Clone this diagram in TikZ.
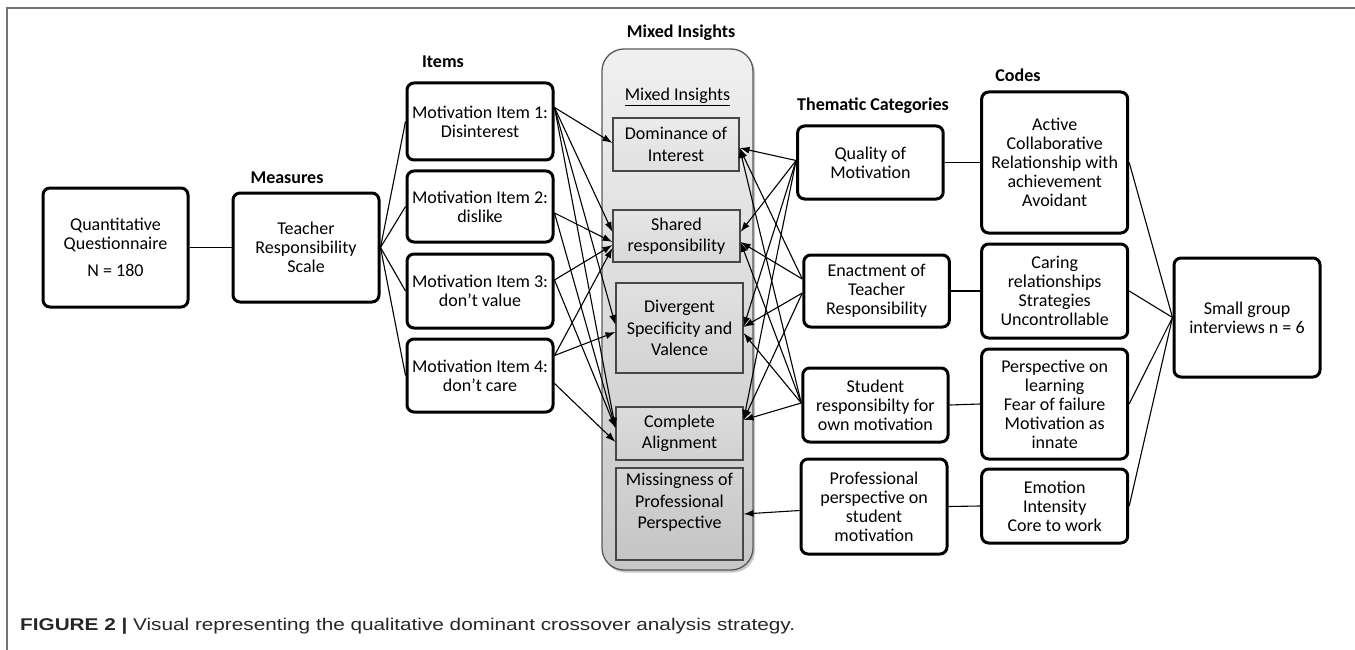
\documentclass[tikz,border=0pt]{standalone}
\usepackage{graphicx}
\usepackage{fontspec}
\setmainfont{Carlito}
\newfontfamily\capfont{Liberation Sans}
\usetikzlibrary{arrows.meta,calc}
\begin{document}
\begin{tikzpicture}[x=1pt,y=-1pt,
  bx/.style={draw=black, line width=3pt, rounded corners=7pt, fill=white, align=center, inner sep=0pt, font=\fontsize{18}{19}\selectfont},
  mi/.style={draw=black!72, line width=1.1pt, align=center, inner sep=0pt, font=\fontsize{18}{21.5}\selectfont},
  lab/.style={font=\bfseries\fontsize{18}{20}\selectfont, inner sep=0pt},
  ln/.style={line width=1.1pt},
  ar/.style={line width=1.1pt, -{Latex[length=10pt,width=7pt]}},
]
\useasboundingbox (0,0) rectangle (1355,650);
% frame
\draw[black!55, line width=1.3pt] (7,650) -- (7,8) -- (1355,8);

% container
\fill[black!22, rounded corners=22pt] (603.5,51.5) rectangle (755,572.5);
\draw[draw=black!65, line width=1.3pt, rounded corners=22pt, top color=black!6, bottom color=black!22] (602,49) rectangle (753,570);

% labels
\node[lab] (lmeas) at (287,178) {Measures};
\node[lab] (litems) at (443,62) {Items};
\node[lab] (lmix) at (681,33) {Mixed Insights};
\node[font=\fontsize{18}{20}\selectfont, inner sep=0pt] (umix) at (677.5,97) {\underline{Mixed Insights}};
\node[lab] (lthem) at (873,106) {Thematic Categories};
\node[lab] (lcodes) at (1018,75) {Codes};

% left boxes
\node[bx, minimum width=145pt, minimum height=119pt] (qq) at (115.5,247.5) {\\[-6pt]Quantitative\\Questionnaire\\[8pt]N = 180};
\node[bx, minimum width=146pt, minimum height=109pt] (trs) at (306,247.5) {Teacher\\Responsibility\\Scale};
\node[bx, minimum width=146pt, minimum height=77pt] (it1) at (480,121.5) {Motivation Item 1:\\Disinterest};
\node[bx, minimum width=146pt, minimum height=71pt] (it2) at (480,206.5) {Motivation Item 2:\\dislike};
\node[bx, minimum width=146pt, minimum height=74pt] (it3) at (480,291) {Motivation Item 3:\\don’t value};
\node[bx, minimum width=146pt, minimum height=73pt] (it4) at (480,375.5) {Motivation Item 4:\\don’t care};

% mixed insight boxes
\node[mi, top color=black!8, bottom color=black!12, minimum width=126pt, minimum height=53pt] (dom) at (676,144.5) {Dominance of\\Interest};
\node[mi, top color=black!10, bottom color=black!15, minimum width=127pt, minimum height=52pt] (sh) at (676.5,236) {Shared\\responsibility};
\node[mi, top color=black!12, bottom color=black!17, minimum width=127pt, minimum height=90pt] (dv) at (679.5,328) {Divergent\\Specificity and\\Valence};
\node[mi, top color=black!14, bottom color=black!18, minimum width=127pt, minimum height=53pt] (cp) at (679.5,433.5) {Complete\\Alignment};
\node[mi, top color=black!17, bottom color=black!23, minimum width=127pt, minimum height=92pt] (ms) at (679.5,514) {Missingness of\\Professional\\Perspective\\[4pt]};

% thematic categories
\node[bx, minimum width=145.6pt, minimum height=73pt] (qu) at (870.4,162.5) {Quality of\\Motivation};
\node[bx, minimum width=145.6pt, minimum height=72pt] (en) at (876.6,291) {Enactment of\\Teacher\\Responsibility};
\node[bx, minimum width=145.3pt, minimum height=74pt] (st) at (875.4,405) {Student\\responsibilty for\\own motivation};
\node[bx, minimum width=146pt, minimum height=95pt] (pr) at (874,506.5) {Professional\\perspective on\\student\\motivation};

% codes
\node[bx, minimum width=146pt, minimum height=141pt] (ac) at (1054.7,162.5) {Active\\Collaborative\\Relationship with\\achievement\\Avoidant};
\node[bx, minimum width=146pt, minimum height=94pt] (ca) at (1054.7,291) {Caring\\relationships\\Strategies\\Uncontrollable};
\node[bx, minimum width=146pt, minimum height=110pt] (pe) at (1054.7,404) {Perspective on\\learning\\Fear of failure\\Motivation as\\innate};
\node[bx, minimum width=146pt, minimum height=74pt] (em) at (1054.7,506) {Emotion\\Intensity\\Core to work};

\node[bx, minimum width=146pt, minimum height=119pt] (sg) at (1247,317.5) {Small group\\interviews n = 6};

% plain connectors
\draw[ln] (qq.east) -- (trs.west);
\foreach \i in {it1,it2,it3,it4} \draw[ln] (trs.east) -- (\i.west);
\draw[ln] (qu.east) -- (ac.west);
\draw[ln] (en.east) -- (ca.west);
\draw[ln] (st.east) -- (pe.west);
\draw[ln] (pr.east) -- (em.west);
\foreach \c in {ac,ca,pe,em} \draw[ln] (\c.east) -- (sg.west);

% items -> mixed insights
\draw[ar] ($(it1.east)+(0,-14)$) -- ($(dom.west)+(0,-1.5)$);
\draw[ar] ($(it1.east)+(0,-14)$) -- ($(sh.west)+(0,-4)$);
\draw[ar] ($(it1.east)+(0,-14)$) -- ($(dv.west)+(0,-3)$);
\draw[ar] ($(it1.east)+(0,-14)$) -- ($(cp.west)+(0,-5.5)$);
\draw[ar] ($(it2.east)+(0,6.5)$) -- ($(sh.west)+(0,6)$);
\draw[ar] ($(it2.east)+(0,6.5)$) -- ($(cp.west)+(0,-5.5)$);
\draw[ar] ($(it3.east)+(0,-11)$) -- ($(sh.west)+(0,9)$);
\draw[ar] ($(it3.east)+(0,-11)$) -- ($(cp.west)+(0,-5.5)$);
\draw[ar] ($(it4.east)+(0,-20)$) -- ($(sh.west)+(0,12)$);
\draw[ar] ($(it4.east)+(0,-20)$) -- ($(dv.west)+(0,4)$);
\draw[ar] ($(it4.east)+(0,8)$) -- ($(cp.west)+(0,8.5)$);

% thematic -> mixed insights
\draw[ar] ($(qu.west)+(0,-2)$) -- ($(dom.east)+(0,3.5)$);
\draw[ar] ($(qu.west)+(0,-2)$) -- ($(sh.east)+(0,-4)$);
\draw[ar] ($(qu.west)+(0,-2)$) -- ($(dv.east)+(0,-1)$);
\draw[ar] ($(qu.west)+(0,-2)$) -- ($(cp.east)+(0,-13.5)$);
\draw[ar] ($(en.west)+(0,-12)$) -- ($(dom.east)+(0,3.5)$);
\draw[ar] ($(en.west)+(0,-12)$) -- ($(sh.east)+(0,6)$);
\draw[ar] ($(en.west)+(0,2)$) -- ($(dv.east)+(0,-1)$);
\draw[ar] ($(en.west)+(0,2)$) -- ($(cp.east)+(0,-13.5)$);
\draw[ar] ($(st.west)+(0,-2)$) -- ($(dom.east)+(0,3.5)$);
\draw[ar] ($(st.west)+(0,-2)$) -- ($(sh.east)+(0,6)$);
\draw[ar] ($(st.west)+(0,-2)$) -- ($(dv.east)+(0,5)$);
\draw[ar] ($(st.west)+(0,-2)$) -- ($(cp.east)+(0,-13.5)$);
\draw[ar] ($(pr.west)+(0,4)$) -- (ms.east);

% caption
\node[anchor=west, inner sep=0pt, text=black!85] (cap) at (20,626) {\resizebox{775pt}{\height}{\capfont\fontsize{17}{20}\selectfont\textbf{FIGURE 2 |} Visual representing the qualitative dominant crossover analysis strategy.}};
\end{tikzpicture}
\end{document}
